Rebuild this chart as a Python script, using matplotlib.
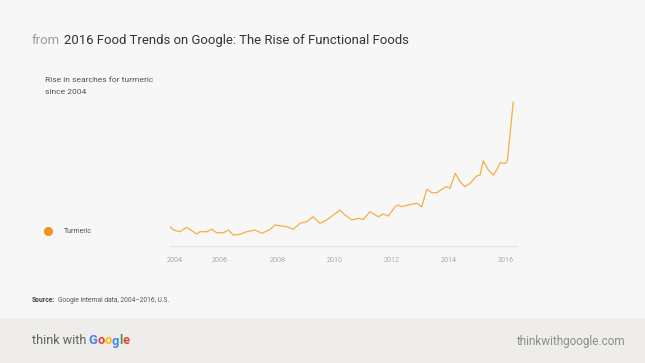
import matplotlib
matplotlib.use("Agg")
import matplotlib.pyplot as plt
from matplotlib.patches import Rectangle

# ---- data (decimal year, relative search interest) ----
dates = [2004.00, 2004.12, 2004.35, 2004.58, 2004.81, 2004.93, 2005.05, 2005.28,
         2005.46, 2005.63, 2005.86, 2006.04, 2006.21, 2006.45, 2006.68, 2006.97,
         2007.21, 2007.50, 2007.67, 2007.91, 2008.08, 2008.31, 2008.55, 2008.78,
         2009.01, 2009.24, 2009.48, 2009.71, 2009.94, 2010.12, 2010.35, 2010.58,
         2010.76, 2010.99, 2011.28, 2011.46, 2011.63, 2011.87, 2011.98, 2012.10,
         2012.33, 2012.63, 2012.80, 2012.98, 2013.15, 2013.33, 2013.50, 2013.67,
         2013.79, 2013.97, 2014.14, 2014.31, 2014.49, 2014.72, 2014.84, 2014.95,
         2015.13, 2015.30, 2015.42, 2015.54, 2015.71, 2015.79, 2016.00]
turmeric = [13.4, 11.1, 9.9, 13.0, 9.9, 8.3, 9.9, 9.9,
            11.6, 9.2, 9.2, 11.1, 7.6, 8.1, 9.9, 11.1,
            8.8, 11.6, 14.6, 13.9, 13.4, 11.6, 15.8, 16.9,
            20.3, 15.8, 18.1, 21.5, 25.0, 21.5, 18.1, 19.2,
            18.5, 23.8, 20.3, 22.2, 20.8, 27.3, 28.5, 27.3,
            28.5, 29.7, 27.3, 39.4, 37.0, 37.0, 39.4, 41.2,
            40.1, 50.5, 44.7, 41.2, 43.5, 48.6, 49.3, 59.2,
            52.8, 49.3, 52.8, 57.8, 57.4, 58.5, 100.0]
tick_years = [2004, 2006, 2008, 2010, 2012, 2014, 2016]
tick_labels = ["2004", "2006", "2008", "2010", "2012", "2014", "2016"]
series_name = "Turmeric"

plt.rcParams['font.family'] = ['Roboto', 'DejaVu Sans']

W, H = 645, 363
fig = plt.figure(figsize=(W / 100, H / 100), dpi=100)
fig.patch.set_facecolor("#f7f7f7")

def fx(px):
    return px / W

def fy(py):
    return 1 - py / H

# footer band
fig.patches.append(Rectangle((0, 0), 1, fy(318), transform=fig.transFigure,
                             facecolor="#efedea", edgecolor="none", zorder=0))

ax = fig.add_axes([fx(170), fy(246), fx(516.7) - fx(170), fy(100) - fy(246)])
ax.set_facecolor("none")
ax.plot(dates, turmeric, color="#f5ae45", lw=0.9, solid_joinstyle="round")
ax.set_xlim(2004.0, 2016.12)
ax.set_ylim(0, 101.4)
for s in ["top", "right", "left"]:
    ax.spines[s].set_visible(False)
ax.spines["bottom"].set_color("#e3e3e3")
ax.spines["bottom"].set_linewidth(0.8)
ax.set_yticks([])
# label positions (slightly left of year starts)
tick_pos = [y + 0.17 if y == 2004 else y - 0.25 for y in tick_years]
ax.set_xticks(tick_pos)
ax.set_xticklabels(tick_labels)
ax.tick_params(axis="x", length=0, pad=8, labelsize=5.2, labelcolor="#aaaaaa")

fig.canvas.draw()
renderer = fig.canvas.get_renderer()

# title
t1 = fig.text(fx(32), fy(40.5), "from", fontsize=9.45, color="#9a9a9a", va="center", ha="left")
x1 = t1.get_window_extent(renderer).x1
fig.text(x1 / fig.bbox.width + fx(4), fy(40.5),
         "2016 Food Trends on Google: The Rise of Functional Foods",
         fontsize=9.45, color="#333333", va="center", ha="left")

fig.text(fx(45), fy(80.5), "Rise in searches for turmeric", fontsize=6.1, color="#555555",
         va="center", ha="left")
fig.text(fx(45), fy(92.5), "since 2004", fontsize=6.1, color="#555555", va="center", ha="left")

# legend
fig.add_artist(plt.Line2D([fx(48)], [fy(231.5)], marker="o", markersize=5.5,
                          color="#f39121", transform=fig.transFigure))
fig.text(fx(64), fy(231.5), series_name, fontsize=5, color="#555555", va="center", ha="left")

# source
fig.text(fx(32), fy(300), "Source:", fontsize=4.9, color="#444444", fontweight="bold",
         va="center", ha="left")
fig.text(fx(58), fy(300), "Google internal data, 2004\u20132016, U.S.", fontsize=4.8,
         color="#555555", va="center", ha="left")

# footer
tw = fig.text(fx(32), fy(341), "think with ", fontsize=9, color="#5f5f5f",
              va="center", ha="left")
bb = tw.get_window_extent(renderer)
x = bb.x1 - 1
letters = ["G", "o", "o", "g", "l", "e"]
colors = ["#4285f4", "#ea4335", "#fbbc05", "#4285f4", "#34a853", "#ea4335"]
for ch, c in zip(letters, colors):
    t = fig.text(x / fig.bbox.width, fy(341), ch, fontsize=9.3, color=c,
                 fontweight="bold", va="center", ha="left")
    x = t.get_window_extent(renderer).x1

fig.text(fx(625), fy(341), "thinkwithgoogle.com", fontsize=8.5, color="#8c8c8c",
         va="center", ha="right")

fig.savefig("out.png", dpi=100, facecolor=fig.get_facecolor())
